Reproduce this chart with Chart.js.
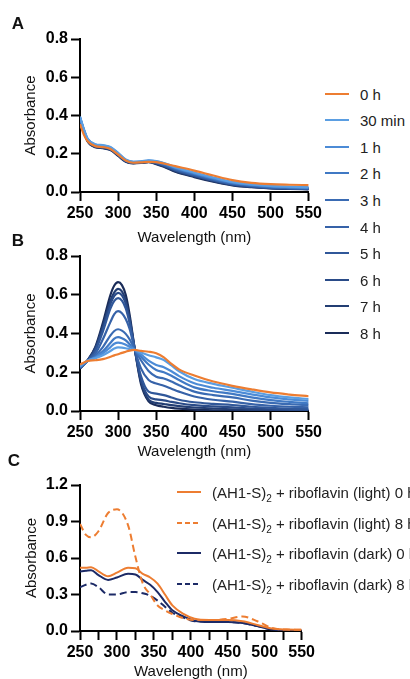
<!DOCTYPE html>
<html><head><meta charset="utf-8">
<script src="https://cdn.jsdelivr.net/npm/chart.js@4"></script>
<style>
html,body{margin:0;padding:0;background:#fff;}
body{width:410px;height:679px;overflow:hidden;position:relative;font-family:"Liberation Sans",Arial,sans-serif;}
canvas.cv{position:absolute;left:0;}
.plabel{position:absolute;font-weight:bold;font-size:17px;color:#111;transform:translate(-50%,-50%);line-height:1;}
.leg{position:absolute;white-space:nowrap;color:#222;line-height:1;}
.leg svg{position:absolute;}
.leg span{position:absolute;transform:translateY(-50%);}
sub{font-size:10px;vertical-align:-4px;line-height:0;}
</style></head><body>
<canvas id="cA" class="cv" width="325" height="252" style="top:0px"></canvas>
<canvas id="cB" class="cv" width="325" height="235" style="top:236px"></canvas>
<canvas id="cC" class="cv" width="318" height="216" style="top:465px"></canvas>
<div class="plabel" style="left:18px;top:23px">A</div>
<div class="plabel" style="left:18px;top:240px">B</div>
<div class="plabel" style="left:14px;top:460px">C</div>
<div id="legAB"></div>
<div id="legC"></div>
<script>
const FONT = '"Liberation Sans", Arial, sans-serif';

// ---------- shared legend ----------
const timeLabels = ['0 h','30 min','1 h','2 h','3 h','4 h','5 h','6 h','7 h','8 h'];
const timeColors = ['#ED7D31','#5B9EE2','#4C8BD6','#4079C4','#3A6BB3','#3662A8','#305799','#2A4B88','#233E73','#1A2C59'];

// ---------- Panel A ----------
const wlA = [250,255,260,270,280,290,300,310,320,330,340,350,360,375,400,425,450,475,500,525,550];
const A_0h  = [.355,.300,.265,.240,.235,.225,.195,.165,.153,.155,.158,.156,.149,.135,.112,.086,.062,.048,.041,.038,.036];
const A_30m = [.395,.330,.280,.250,.245,.235,.205,.170,.158,.160,.165,.162,.152,.130,.102,.076,.053,.040,.032,.028,.025];
const A_1h  = [.392,.328,.278,.248,.243,.233,.203,.168,.157,.159,.164,.160,.150,.127,.099,.073,.050,.038,.030,.026,.023];
const A_2h  = [.390,.326,.276,.246,.241,.231,.201,.167,.156,.158,.163,.158,.148,.124,.096,.070,.048,.036,.028,.024,.021];
const A_3h  = [.387,.324,.274,.244,.239,.229,.199,.166,.155,.157,.162,.156,.145,.121,.093,.067,.045,.034,.026,.022,.019];
const A_4h  = [.385,.322,.272,.242,.237,.227,.197,.164,.154,.156,.160,.154,.142,.118,.090,.064,.043,.032,.024,.020,.018];
const A_5h  = [.382,.320,.270,.240,.235,.225,.195,.163,.153,.155,.159,.152,.140,.115,.087,.062,.041,.030,.022,.019,.017];
const A_6h  = [.380,.318,.268,.238,.233,.223,.193,.161,.152,.154,.158,.150,.137,.112,.084,.059,.039,.028,.021,.018,.016];
const A_7h  = [.377,.316,.266,.236,.231,.221,.191,.160,.151,.153,.157,.148,.135,.109,.081,.057,.037,.027,.020,.017,.015];
const A_8h  = [.375,.314,.264,.234,.229,.219,.189,.158,.150,.152,.156,.146,.132,.106,.078,.054,.035,.025,.019,.016,.014];
const seriesA = [A_0h,A_30m,A_1h,A_2h,A_3h,A_4h,A_5h,A_6h,A_7h,A_8h];

// ---------- Panel B ----------
const wlB = [250,260,270,280,290,295,300,305,310,315,322,330,340,350,360,370,380,400,425,450,475,500,525,550];
const B_0h  = [.240,.258,.262,.268,.280,.287,.293,.300,.306,.312,.315,.310,.306,.298,.277,.243,.215,.183,.152,.130,.112,.096,.085,.076];
const B_30m = [.232,.260,.272,.288,.310,.322,.328,.327,.324,.320,.315,.302,.288,.277,.263,.235,.205,.165,.140,.120,.100,.082,.070,.062];
const B_1h  = [.230,.259,.275,.298,.330,.347,.353,.350,.342,.332,.315,.292,.260,.238,.226,.205,.180,.143,.120,.104,.086,.070,.060,.052];
const B_2h  = [.228,.258,.278,.308,.352,.374,.381,.376,.365,.345,.315,.280,.240,.212,.200,.182,.160,.122,.102,.088,.070,.056,.047,.040];
const B_3h  = [.226,.258,.285,.330,.390,.413,.422,.415,.398,.370,.316,.262,.207,.177,.168,.152,.133,.100,.082,.070,.054,.042,.035,.030];
const B_4h  = [.224,.259,.295,.370,.460,.500,.515,.505,.475,.425,.316,.220,.160,.142,.130,.115,.100,.075,.058,.048,.035,.027,.022,.019];
const B_5h  = [.222,.260,.310,.410,.530,.568,.583,.570,.530,.455,.316,.180,.100,.090,.082,.070,.058,.045,.037,.031,.022,.016,.012,.010];
const B_6h  = [.221,.261,.318,.425,.553,.594,.610,.597,.555,.470,.316,.160,.075,.060,.055,.047,.040,.030,.024,.019,.013,.009,.006,.005];
const B_7h  = [.220,.262,.325,.440,.570,.612,.630,.617,.570,.480,.316,.150,.058,.042,.036,.030,.025,.018,.013,.009,.006,.004,.003,.002];
const B_8h  = [.219,.263,.330,.455,.600,.648,.665,.650,.600,.500,.316,.140,.050,.030,.022,.016,.012,.007,.004,.003,.002,.001,.000,.000];
const seriesB = [B_0h,B_30m,B_1h,B_2h,B_3h,B_4h,B_5h,B_6h,B_7h,B_8h];

// ---------- Panel C ----------
const wlC = [250,258,265,275,288,300,315,325,335,345,355,365,375,390,405,425,450,470,490,510,530,550];
const C_light0 = [.52,.52,.525,.49,.45,.48,.52,.515,.47,.44,.39,.30,.21,.14,.10,.09,.09,.08,.05,.02,.012,.01];
const C_light8 = [.88,.79,.77,.82,.97,1.0,.87,.61,.39,.30,.21,.17,.14,.105,.09,.09,.10,.12,.08,.025,.012,.01];
const C_dark0  = [.49,.495,.50,.46,.42,.44,.47,.465,.42,.38,.32,.24,.17,.12,.085,.075,.075,.065,.04,.012,.005,.005];
const C_dark8  = [.36,.38,.39,.36,.30,.30,.32,.32,.31,.29,.25,.20,.15,.11,.08,.08,.075,.065,.04,.012,.005,.005];
const labelsC = ['(light) 0 h','(light) 8 h','(dark) 0 h','(dark) 8 h'];
const colorsC = ['#ED7D31','#ED7D31','#1C2A66','#1C2A66'];
const dashC = [[],[7,4],[],[7,4]];
const seriesC = [C_light0,C_light8,C_dark0,C_dark8];

function pts(wl, arr){ return wl.map((x,i)=>({x:x, y:arr[i]})); }

function makeScales(c){
  const tickFont = {family:FONT, size:16, weight:'bold', lineHeight:1.2};
  const grid = {drawOnChartArea:false, drawTicks:true, tickLength:9, tickWidth:2, tickColor:'#000'};
  const border = {display:true, color:'#000', width:2};
  return {
    x:{type:'linear', min:250, max:550,
       ticks:{stepSize:c.xStep, autoSkip:false, maxRotation:0, minRotation:0, padding:c.xPad, color:'#000', font:tickFont,
              callback:v => (v % 50 === 0 ? String(v) : '')},
       grid:grid, border:border,
       title:{display:true, text:'Wavelength (nm)', color:'#111', font:{family:FONT,size:15,lineHeight:1.2}, padding:{top:0,bottom:c.xTitlePad}},
       afterFit:s => { s.height = c.xHeight; }},
    y:{type:'linear', min:0, max:c.yMax,
       ticks:{stepSize:c.yStep, padding:3, color:'#000', font:tickFont, callback:v => Number(v).toFixed(1)},
       grid:grid, border:border,
       title:{display:true, text:'Absorbance', color:'#111', font:{family:FONT,size:15,lineHeight:1.2}, padding:{top:c.yTitlePad,bottom:0}},
       afterFit:s => { s.width = 80; }}
  };
}

function makeChart(id, datasets, c){
  return new Chart(document.getElementById(id), {
    type:'line',
    data:{datasets:datasets},
    options:{
      responsive:false, animation:false, devicePixelRatio:1,
      layout:{padding:{top:c.padTop, right:c.padRight, left:0, bottom:0}},
      elements:{point:{radius:0}, line:{borderWidth:c.lw, cubicInterpolationMode:'monotone', fill:false}},
      plugins:{legend:{display:false}, tooltip:{enabled:false}},
      scales:makeScales(c)
    }
  });
}

makeChart('cA', seriesA.map((s,i)=>({label:timeLabels[i], data:pts(wlA,s), borderColor:timeColors[i]})),
  {padTop:39, padRight:15, xHeight:60, xTitlePad:5, xPad:3, xStep:50, yMax:0.8, yStep:0.2, yTitlePad:22, lw:2.2});
makeChart('cB', seriesB.map((s,i)=>({label:timeLabels[i], data:pts(wlB,s), borderColor:timeColors[i]})),
  {padTop:20, padRight:15, xHeight:60, xTitlePad:10, xPad:3, xStep:50, yMax:0.8, yStep:0.2, yTitlePad:22, lw:2.2});
makeChart('cC', seriesC.map((s,i)=>({label:labelsC[i], data:pts(wlC,s), borderColor:colorsC[i], borderDash:dashC[i]})),
  {padTop:20, padRight:15, xHeight:50, xTitlePad:0, xPad:3, xStep:25, yMax:1.2, yStep:0.3, yTitlePad:23, lw:2});

// ---------- legends (HTML) ----------
const legAB = document.getElementById('legAB');
timeLabels.forEach((lab,i)=>{
  const y = 93.5 + i*26.6;
  const d = document.createElement('div');
  d.className='leg'; d.style.left='0px'; d.style.top=y+'px'; d.style.fontSize='15px';
  d.innerHTML = '<svg width="24" height="4" style="left:325px;top:-2px"><line x1="0" y1="2" x2="24" y2="2" stroke="'+timeColors[i]+'" stroke-width="2"/></svg>'+
                '<span style="left:360px">'+lab+'</span>';
  legAB.appendChild(d);
});
const legC = document.getElementById('legC');
labelsC.forEach((lab,i)=>{
  const y = 492 + i*30.5;
  const d = document.createElement('div');
  d.className='leg'; d.style.left='0px'; d.style.top=y+'px'; d.style.fontSize='15px';
  const dash = dashC[i].length ? ' stroke-dasharray="5,3"' : '';
  d.innerHTML = '<svg width="24" height="4" style="left:177px;top:-2px"><line x1="0" y1="2" x2="24" y2="2" stroke="'+colorsC[i]+'" stroke-width="2"'+dash+'/></svg>'+
                '<span style="left:212px">(AH1-S)<sub>2</sub> + riboflavin '+lab+'</span>';
  legC.appendChild(d);
});
</script>
</body></html>
